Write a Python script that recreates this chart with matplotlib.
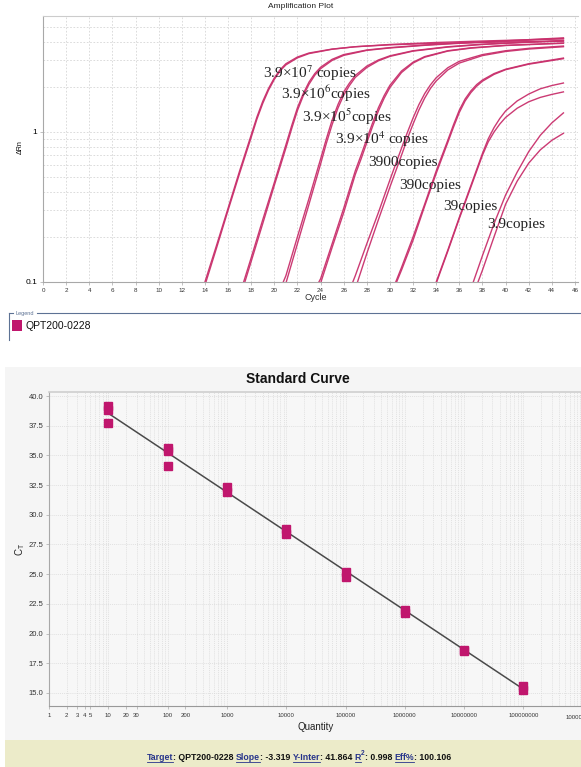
"""qPCR amplification plot + standard curve, redrawn with matplotlib."""
import matplotlib

matplotlib.use("Agg")
import matplotlib.pyplot as plt  # noqa: E402
from matplotlib.lines import Line2D  # noqa: E402
from matplotlib.patches import Rectangle  # noqa: E402
from matplotlib.ticker import FixedLocator, LogLocator, NullFormatter  # noqa: E402

W, H = 581, 767
PINK = "#c9306c"
MARK = "#c0166d"
GRID = "#d6d6d6"
SPINE = "#a8a8a8"
SANS = "Liberation Sans"
SERIF = "Liberation Serif"

plt.rcParams["mathtext.fontset"] = "stix"

# ---------------------------------------------------------------------------
# Amplification curves: ΔRn, two wells per standard
# ---------------------------------------------------------------------------
CYC_39E7 = [13, 14, 15, 16, 17, 18, 18.5, 19, 19.5, 20, 20.5, 21, 22, 23, 25, 27, 30, 34, 38, 42, 45]
RN_39E7 = [
    [0.057, 0.10, 0.175, 0.31, 0.55, 0.955, 1.26, 1.60, 1.95, 2.29, 2.60, 2.85, 3.16, 3.36, 3.57, 3.70, 3.81, 3.90, 3.96, 4.00, 4.03],
    [0.054, 0.095, 0.168, 0.30, 0.53, 0.92, 1.22, 1.55, 1.90, 2.24, 2.55, 2.80, 3.12, 3.33, 3.56, 3.70, 3.83, 3.95, 4.04, 4.12, 4.18],
]
CYC_39E6 = [16, 17, 18, 19, 20, 21, 21.5, 22, 22.5, 23, 23.5, 24, 25, 26, 28, 30, 33, 36, 40, 45]
RN_39E6 = [
    [0.045, 0.082, 0.145, 0.26, 0.46, 0.82, 1.10, 1.45, 1.80, 2.15, 2.45, 2.70, 3.05, 3.28, 3.52, 3.65, 3.80, 3.92, 4.05, 4.24],
    [0.042, 0.077, 0.137, 0.245, 0.44, 0.78, 1.05, 1.39, 1.74, 2.08, 2.39, 2.64, 3.00, 3.24, 3.50, 3.63, 3.78, 3.90, 4.02, 4.20],
]
CYC_39E5 = [20, 21, 22, 23, 24, 24.5, 25, 25.5, 26, 26.5, 27, 28, 29, 30, 32, 35, 38, 42, 45]
RN_39E5 = [
    [0.072, 0.11, 0.20, 0.36, 0.66, 0.90, 1.20, 1.52, 1.85, 2.12, 2.38, 2.75, 3.02, 3.22, 3.48, 3.70, 3.85, 3.98, 4.08],
    [0.064, 0.098, 0.18, 0.33, 0.61, 0.84, 1.12, 1.44, 1.76, 2.04, 2.31, 2.69, 2.98, 3.19, 3.46, 3.68, 3.83, 3.96, 4.04],
]
CYC_39E4 = [23, 24, 25, 26, 27, 27.5, 28, 28.5, 29, 29.5, 30, 31, 32, 33, 35, 37, 40, 45]
RN_39E4 = [
    [0.075, 0.105, 0.18, 0.31, 0.55, 0.70, 0.90, 1.15, 1.45, 1.75, 2.05, 2.55, 2.92, 3.18, 3.48, 3.64, 3.78, 3.92],
    [0.070, 0.098, 0.17, 0.29, 0.52, 0.66, 0.85, 1.09, 1.38, 1.68, 1.98, 2.49, 2.88, 3.15, 3.46, 3.62, 3.77, 3.90],
]
CYC_3900 = [26, 27, 28, 29, 30, 31, 31.5, 32, 32.5, 33, 33.5, 34, 35, 36, 38, 40, 42, 45]
RN_3900 = [
    [0.07, 0.11, 0.18, 0.29, 0.48, 0.78, 0.99, 1.24, 1.52, 1.80, 2.06, 2.30, 2.68, 2.96, 3.28, 3.48, 3.61, 3.74],
    [0.06, 0.09, 0.155, 0.26, 0.43, 0.70, 0.90, 1.13, 1.40, 1.68, 1.95, 2.19, 2.59, 2.88, 3.23, 3.44, 3.57, 3.70],
]
CYC_390 = [30, 31, 32, 33, 34, 35, 35.5, 36, 36.5, 37, 37.5, 38, 39, 40, 42, 45]
RN_390 = [
    [0.08, 0.125, 0.20, 0.33, 0.55, 0.88, 1.12, 1.40, 1.66, 1.88, 2.07, 2.22, 2.45, 2.62, 2.85, 3.11],
    [0.078, 0.12, 0.19, 0.32, 0.53, 0.85, 1.08, 1.35, 1.61, 1.83, 2.02, 2.18, 2.42, 2.60, 2.83, 3.08],
]
CYC_39 = [33, 34, 35, 36, 37, 38, 38.5, 39, 39.5, 40, 41, 42, 43, 44, 45]
RN_39 = [
    [0.062, 0.10, 0.163, 0.27, 0.44, 0.72, 0.90, 1.07, 1.23, 1.38, 1.61, 1.79, 1.94, 2.04, 2.12],
    [0.060, 0.098, 0.16, 0.265, 0.43, 0.70, 0.86, 1.00, 1.13, 1.25, 1.44, 1.59, 1.70, 1.78, 1.85],
]
CYC_3P9 = [37, 38, 39, 40, 41, 42, 43, 44, 45]
RN_3P9 = [
    [0.09, 0.15, 0.245, 0.38, 0.54, 0.74, 0.95, 1.15, 1.34],
    [0.075, 0.12, 0.20, 0.33, 0.47, 0.62, 0.76, 0.88, 0.98],
]

CURVE_LABELS = [
    r"3.9×10$^{7}$ copies", r"3.9×10$^{6}$copies", r"3.9×10$^{5}$copies",
    r"3.9×10$^{4}$ copies", "3900copies", "390copies", "39copies", "3.9copies",
]
# where each label sits (cycle, ΔRn) on the amplification axes
LABEL_AT = [(19.0, 2.47), (20.6, 1.79), (22.4, 1.26), (25.25, 0.90),
            (28.1, 0.63), (30.8, 0.437), (34.6, 0.321), (38.4, 0.24)]

# ---------------------------------------------------------------------------
# Standard curve: Ct per well
# ---------------------------------------------------------------------------
SC_QTY = [10, 10, 10, 100, 100, 100, 1e3, 1e3, 1e4, 1e4,
          1e5, 1e5, 1e6, 1e6, 1e7, 1e7, 1e8, 1e8]
SC_CT = [39.15, 38.85, 37.75, 35.6, 35.4, 34.15, 32.3, 31.95, 28.8, 28.35,
         25.2, 24.8, 22.0, 21.75, 18.65, 18.5, 15.55, 15.25]
SLOPE = -3.319
Y_INTER = 41.864
R2 = 0.998
EFF = 100.106
TARGET = "QPT200-0228"

QTY_TICKS = [1, 2, 3, 4, 5, 10, 20, 30, 100, 200, 1e3, 1e4, 1e5, 1e6, 1e7, 1e8]
QTY_TICK_LABELS = ["1", "2", "3", "4", "5", "10", "20", "30", "100", "200",
                   "1000", "10000", "100000", "1000000", "10000000", "100000000"]
CT_TICKS = [15.0, 17.5, 20.0, 22.5, 25.0, 27.5, 30.0, 32.5, 35.0, 37.5, 40.0]


def fx(px):
    return px / W


def fy(py):
    return 1 - py / H


def amp_plot(fig):
    ax = fig.add_axes([fx(43), fy(282), fx(578) - fx(43), fy(16) - fy(282)])
    groups = [(CYC_39E7, RN_39E7), (CYC_39E6, RN_39E6), (CYC_39E5, RN_39E5),
              (CYC_39E4, RN_39E4), (CYC_3900, RN_3900), (CYC_390, RN_390),
              (CYC_39, RN_39), (CYC_3P9, RN_3P9)]
    for cyc, runs in groups:
        for rn in runs:
            ax.plot(cyc, rn, color=PINK, lw=1.0, alpha=0.95,
                    solid_joinstyle="round")

    ax.set_yscale("log")
    ax.set_xlim(0, 46.26)
    ax.set_ylim(0.1, 5.93)
    ax.set_xticks(range(0, 47, 2))
    ax.set_yticks([0.1, 1])
    ax.set_yticklabels(["0.1", "1"])
    ax.yaxis.set_minor_locator(LogLocator(base=10, subs=range(2, 10)))
    ax.yaxis.set_minor_formatter(NullFormatter())
    ax.tick_params(axis="x", labelsize=4.5, length=2, width=0.5, color=SPINE,
                   pad=2, labelcolor="#333333")
    ax.tick_params(axis="y", which="major", labelsize=6, length=2, width=0.5,
                   color=SPINE, pad=2)
    ax.tick_params(axis="y", which="minor", length=0)
    for lab in ax.get_xticklabels() + ax.get_yticklabels():
        lab.set_family(SANS)
    ax.grid(True, which="both", color=GRID, lw=0.6, ls=(0, (2, 2)))
    ax.set_axisbelow(True)
    for side in ("left", "bottom", "top"):
        ax.spines[side].set_color(SPINE)
        ax.spines[side].set_linewidth(0.8)
    ax.spines["top"].set_color("#cccccc")
    ax.spines["right"].set_visible(False)

    for text, (cx, cy) in zip(CURVE_LABELS, LABEL_AT):
        ax.text(cx, cy, text, family=SERIF, fontsize=11, color="#222222",
                ha="left", va="center")

    fig.text(fx(301), fy(7), "Amplification Plot", family=SANS, fontsize=6,
             ha="center", va="center", color="#222222")
    fig.text(fx(20), fy(147), "ΔRn", family=SANS, fontsize=5, rotation=90,
             ha="center", va="center")
    fig.text(fx(316), fy(298), "Cycle", family=SANS, fontsize=6.5,
             ha="center", va="center", color="#333333")

    # legend strip under the amplification plot
    edge = "#5d7294"
    fig.add_artist(Line2D([fx(9), fx(13)], [fy(313), fy(313)], color=edge, lw=0.8))
    fig.add_artist(Line2D([fx(37), fx(581)], [fy(313), fy(313)], color=edge, lw=0.8))
    fig.add_artist(Line2D([fx(9), fx(9)], [fy(313), fy(340)], color=edge, lw=0.8))
    fig.text(fx(15), fy(313), "Legend", family=SANS, fontsize=4, color=edge,
             ha="left", va="center")
    fig.add_artist(Rectangle((fx(12), fy(331)), fx(10), fy(320) - fy(331),
                             transform=fig.transFigure, color=MARK, lw=0))
    fig.text(fx(25), fy(326), TARGET, family=SANS, fontsize=7.5, color="#111111",
             ha="left", va="center")


def std_curve(fig):
    fig.add_artist(Rectangle((fx(5), fy(740)), fx(581) - fx(5), fy(367) - fy(740),
                             transform=fig.transFigure, color="#f5f5f5", lw=0,
                             zorder=-5))
    ax = fig.add_axes([fx(49), fy(706), fx(581) - fx(49), fy(392) - fy(706)])
    ax.set_facecolor("#f7f7f7")
    ax.set_xscale("log")
    ax.set_xlim(1, 10 ** 8.97)
    ax.set_ylim(13.9, 40.34)

    ax.plot([10, 1e8], [Y_INTER + SLOPE * 1, Y_INTER + SLOPE * 8],
            color="#4a4a4a", lw=1.1, zorder=3)
    ax.plot(SC_QTY, SC_CT, "s", color=MARK, ms=6, mec=MARK, zorder=4)

    ax.xaxis.set_major_locator(FixedLocator(QTY_TICKS))
    ax.set_xticklabels(QTY_TICK_LABELS)
    ax.xaxis.set_minor_locator(LogLocator(base=10, subs=range(2, 10), numticks=20))
    ax.xaxis.set_minor_formatter(NullFormatter())
    ax.set_yticks(CT_TICKS)
    ax.set_yticklabels([f"{v:.1f}" for v in CT_TICKS])
    ax.tick_params(axis="x", which="major", labelsize=4.3, length=2, width=0.5,
                   color=SPINE, pad=3, labelcolor="#333333")
    ax.tick_params(axis="x", which="minor", length=0)
    ax.tick_params(axis="y", labelsize=5.5, length=2, width=0.5, color=SPINE,
                   pad=2, labelcolor="#333333")
    for lab in ax.get_xticklabels() + ax.get_yticklabels():
        lab.set_family(SANS)
    ax.grid(True, which="both", axis="x", color="#d9d9d9", lw=0.5, ls=(0, (1.5, 1.5)))
    ax.grid(True, which="major", axis="y", color="#d9d9d9", lw=0.5, ls=(0, (1.5, 1.5)))
    ax.set_axisbelow(True)
    ax.spines["left"].set_color(SPINE)
    ax.spines["bottom"].set_color("#999999")
    ax.spines["top"].set_color("#cfcfcf")
    ax.spines["top"].set_linewidth(1.2)
    ax.spines["right"].set_visible(False)
    # the 1e9 label runs off the right edge, as in the source screenshot
    ax.text(1e9, -0.03, "1000000000", transform=ax.get_xaxis_transform(),
            family=SANS, fontsize=4.3, ha="center", va="top", color="#333333",
            clip_on=False)

    fig.text(fx(298), fy(379), "Standard Curve", family=SANS, fontsize=10,
             weight="bold", ha="center", va="center", color="#111111")
    fig.text(fx(20), fy(549), r"C$_\mathregular{T}$", family=SANS, fontsize=7,
             rotation=90, ha="center", va="center", color="#222222")
    fig.text(fx(316), fy(727), "Quantity", family=SANS, fontsize=7,
             ha="center", va="center", color="#222222")


def summary_bar(fig):
    fig.add_artist(Rectangle((fx(5), 0), fx(581) - fx(5), fy(740),
                             transform=fig.transFigure, color="#ecebc9", lw=0,
                             zorder=-5))
    link = "#27348b"
    pieces = [("Target", link, True), (f": {TARGET} ", "#111111", False),
              ("Slope", link, True), (f": {SLOPE:.3f} ", "#111111", False),
              ("Y-Inter", link, True), (f": {Y_INTER:.3f} ", "#111111", False),
              ("R", link, True), ("2", link, False), (f": {R2:.3f} ", "#111111", False),
              ("Eff%", link, True), (f": {EFF:.3f}", "#111111", False)]
    ybase = fy(757)
    arts = []
    for s, col, under in pieces:
        sup = s == "2"
        t = fig.text(0, ybase + (0.004 if sup else 0), s, family=SANS,
                     fontsize=4.8 if sup else 6.3, weight="bold", color=col,
                     ha="left", va="center")
        arts.append((t, under))
    fig.canvas.draw()
    r = fig.canvas.get_renderer()
    widths = [t.get_window_extent(r).width for t, _ in arts]
    x = 299 - sum(widths) / 2
    for (t, under), w in zip(arts, widths):
        t.set_x(fx(x))
        if under:
            fig.add_artist(Line2D([fx(x), fx(x + w)], [fy(762), fy(762)],
                                  color=link, lw=0.6))
        x += w


def main():
    fig = plt.figure(figsize=(W / 100, H / 100), dpi=100)
    amp_plot(fig)
    std_curve(fig)
    summary_bar(fig)
    fig.savefig("out.png", dpi=100)


if __name__ == "__main__":
    main()
